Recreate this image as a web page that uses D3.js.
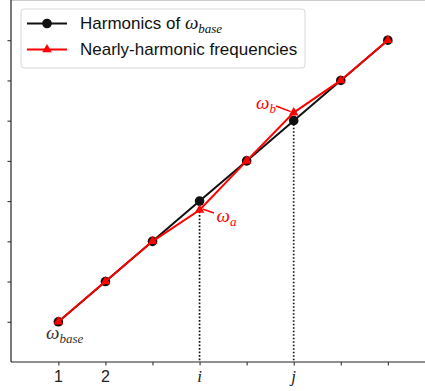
<!DOCTYPE html>
<html><head><meta charset="utf-8">
<script src="https://cdn.jsdelivr.net/npm/d3@7"></script>
<style>body{margin:0;background:#fff}svg{display:block}</style>
</head><body>
<script>
const harmonics = [1,2,3,4,5,6,7,8];
const harmonicVals = [1,2,3,4,5,6,7,8];
const nearlyVals = [1,2,3,3.78,5,6.2,7,8];
const tickPos = [1,2,3,4,5,6,7,8];
const tickLabels = ["1","2","","i","","j","",""];
const yTicks = [1,2,3,4,5,6,7,8];
const markIdx = [3,5]; // i and j

const W=425,H=391;
const svg=d3.select("body").append("svg").attr("width",W).attr("height",H);
const x=d3.scaleLinear().domain([0,8.79]).range([11.3,425]);
const y=d3.scaleLinear().domain([0,9]).range([362,0]);

// top spine (cropped)
svg.append("line").attr("x1",11).attr("x2",W).attr("y1",0.5).attr("y2",0.5).attr("stroke","#ccc").attr("stroke-width",1);

// axes
const xa=svg.append("g").attr("transform","translate(0,362)")
  .call(d3.axisBottom(x).tickValues(tickPos).tickSize(3.5).tickFormat(()=>""));
xa.select(".domain").attr("stroke","#222").attr("stroke-width",1.2).attr("d","M11,0H425");
xa.selectAll(".tick line").attr("stroke","#222");
const ya=svg.append("g").attr("transform","translate(11,0)")
  .call(d3.axisLeft(y).tickValues(yTicks).tickSize(3.5).tickFormat(()=>""));
ya.select(".domain").attr("stroke","#222").attr("stroke-width",1.2).attr("d","M0,0V362");
ya.selectAll(".tick line").attr("stroke","#222");

// tick labels
svg.selectAll("text.tl").data(tickPos).enter().append("text")
  .attr("x",d=>x(d)).attr("y",382).attr("text-anchor","middle")
  .attr("font-family",(d,i)=>/[a-z]/.test(tickLabels[i])?"Liberation Serif":"Liberation Sans")
  .attr("font-style",(d,i)=>/[a-z]/.test(tickLabels[i])?"italic":"normal")
  .attr("font-size",(d,i)=>/[a-z]/.test(tickLabels[i])?17:16).attr("fill","#222")
  .text((d,i)=>tickLabels[i]);

// dotted verticals
markIdx.forEach(k=>{
  svg.append("line").attr("x1",x(harmonics[k])).attr("x2",x(harmonics[k]))
    .attr("y1",y(harmonicVals[k])).attr("y2",y(0))
    .attr("stroke","#111").attr("stroke-width",1.7).attr("stroke-dasharray","1.7,1.8");
});

const line=d3.line().x((d,i)=>x(harmonics[i])).y(d=>y(d));
svg.append("path").attr("d",line(harmonicVals)).attr("fill","none").attr("stroke","#111").attr("stroke-width",2);
svg.selectAll("circle.h").data(harmonicVals).enter().append("circle")
  .attr("cx",(d,i)=>x(harmonics[i])).attr("cy",d=>y(d)).attr("r",4.8).attr("fill","#111");
svg.append("path").attr("d",line(nearlyVals)).attr("fill","none").attr("stroke","#ff0000").attr("stroke-width",2);
const tri=d3.symbol().type(d3.symbolTriangle).size(40);
svg.selectAll("path.n").data(nearlyVals).enter().append("path")
  .attr("d",tri).attr("transform",(d,i)=>`translate(${x(harmonics[i])},${y(d)})`).attr("fill","#ff0000");

// annotations
function omega(g,xx,yy,sub,color,subSize){
  const t=g.append("text").attr("x",xx).attr("y",yy).attr("fill",color)
    .attr("font-family","Liberation Serif").attr("font-style","italic").attr("font-size",19);
  t.append("tspan").text("ω");
  t.append("tspan").attr("dy",4).attr("font-size",subSize||13).text(sub);
}
omega(svg,256,109,"b","#ff0000");
svg.append("line").attr("x1",276).attr("y1",106).attr("x2",x(6)-3).attr("y2",y(nearlyVals[5])-1).attr("stroke","#ff0000").attr("stroke-width",1.6);
omega(svg,216.5,222,"a","#ff0000");
svg.append("line").attr("x1",214).attr("y1",213).attr("x2",x(4)+3).attr("y2",y(nearlyVals[3])-1).attr("stroke","#ff0000").attr("stroke-width",1.6);
omega(svg,46,339,"base","#333");

// legend
const lg=svg.append("g");
lg.append("rect").attr("x",21).attr("y",9).attr("width",284).attr("height",59).attr("rx",3)
  .attr("fill","#fff").attr("fill-opacity",0.8).attr("stroke","#d8d8d8");
lg.append("line").attr("x1",27).attr("x2",67).attr("y1",23.5).attr("y2",23.5).attr("stroke","#111").attr("stroke-width",2);
lg.append("circle").attr("cx",47).attr("cy",23.5).attr("r",4.8).attr("fill","#111");
lg.append("line").attr("x1",27).attr("x2",67).attr("y1",49.5).attr("y2",49.5).attr("stroke","#ff0000").attr("stroke-width",2);
lg.append("path").attr("d",tri).attr("transform","translate(47,49.5)").attr("fill","#ff0000");
const t1=lg.append("text").attr("x",80).attr("y",29).attr("font-family","Liberation Sans").attr("font-size",17).attr("fill","#111");
t1.append("tspan").text("Harmonics of ");
t1.append("tspan").attr("font-family","Liberation Serif").attr("font-style","italic").attr("font-size",19).text("ω");
t1.append("tspan").attr("font-family","Liberation Serif").attr("font-style","italic").attr("font-size",13).attr("dy",4).text("base");
lg.append("text").attr("x",80).attr("y",55).attr("font-family","Liberation Sans").attr("font-size",17).attr("fill","#111")
  .text("Nearly-harmonic frequencies");
</script>
</body></html>
